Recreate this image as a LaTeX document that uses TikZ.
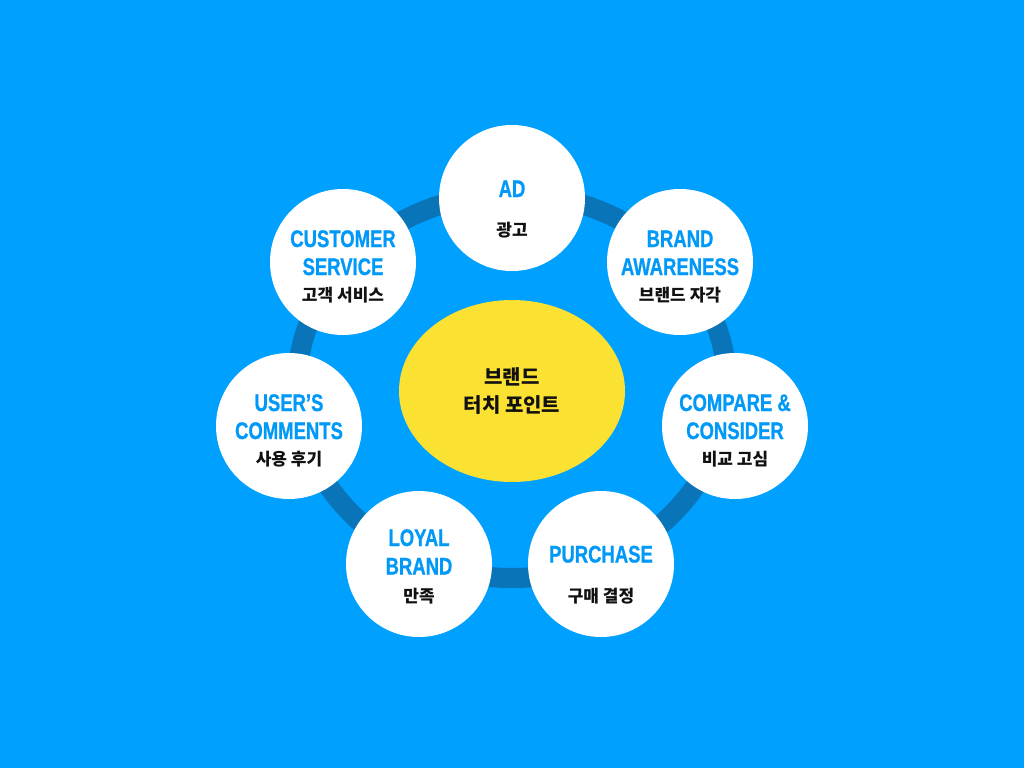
\documentclass[tikz,border=0pt]{standalone}
\usepackage{fontspec}
\usetikzlibrary{shapes.geometric}
\newfontfamily\enfont{Liberation Sans}[FakeStretch=0.77, FakeBold=0.8]
\newfontfamily\krfont{Noto Sans CJK KR}
\definecolor{bgblue}{HTML}{00A0FF}
\definecolor{ringblue}{HTML}{0A74B8}
\definecolor{txtblue}{HTML}{0099F8}
\definecolor{hubyellow}{HTML}{FAE132}
\definecolor{krtext}{HTML}{111111}
\begin{document}
\begin{tikzpicture}[x=1pt,y=1pt,
  bubble/.style={circle, fill=white, minimum size=146pt, inner sep=0pt},
  hub/.style={ellipse, fill=hubyellow, minimum width=226pt, minimum height=182pt, inner sep=0pt},
  entext/.style={font=\enfont\bfseries\fontsize{24}{24}\selectfont, text=txtblue, anchor=base, inner sep=0pt},
  krtxt/.style={font=\krfont\bfseries\fontsize{17}{17}\selectfont, text=krtext, anchor=base, inner sep=0pt},
  hubtxt/.style={font=\krfont\bfseries\fontsize{20}{20}\selectfont, text=krtext, anchor=base, inner sep=0pt},
  ringline/.style={draw=ringblue, line width=20pt}]
\fill[bgblue] (0,0) rectangle (1024,-768);
\useasboundingbox (0,0) rectangle (1024,-768);
\draw[ringline] (512,-386) ellipse [x radius=215, y radius=192];
\node[hub] (hub) at (512,-391) {};
\node[hubtxt] (hub1) at ([yshift=7pt]hub.center) {브랜드};
\node[hubtxt] (hub2) at ([yshift=-21pt]hub.center) {터치 포인트};
% AD
\node[bubble] (ad) at (512,-198) {};
\node[entext] (ad1) at ([yshift=1pt]ad.center) {AD};
\node[krtxt] (ad2) at ([yshift=-38pt]ad.center) {광고};
% Brand awareness
\node[bubble] (ba) at (680,-262) {};
\node[entext] (ba1) at ([yshift=15pt]ba.center) {BRAND};
\node[entext] (ba2) at ([yshift=-13pt]ba.center) {AWARENESS};
\node[krtxt] (ba3) at ([yshift=-39pt]ba.center) {브랜드 자각};
% Compare
\node[bubble] (cc) at (735,-426) {};
\node[entext] (cc1) at ([yshift=15pt]cc.center) {COMPARE \&};
\node[entext] (cc2) at ([yshift=-13pt]cc.center) {CONSIDER};
\node[krtxt] (cc3) at ([yshift=-39pt]cc.center) {비교 고심};
% Purchase
\node[bubble] (pu) at (601,-564) {};
\node[entext] (pu1) at ([yshift=1.5pt]pu.center) {PURCHASE};
\node[krtxt] (pu2) at ([yshift=-38.7pt]pu.center) {구매 결정};
% Loyal brand
\node[bubble] (lb) at (419,-564) {};
\node[entext] (lb1) at ([yshift=18pt]lb.center) {LOYAL};
\node[entext] (lb2) at ([yshift=-10.5pt]lb.center) {BRAND};
\node[krtxt] (lb3) at ([yshift=-38pt]lb.center) {만족};
% User's comments
\node[bubble] (uc) at (289,-426) {};
\node[entext] (uc1) at ([yshift=15pt]uc.center) {USER’S};
\node[entext] (uc2) at ([yshift=-13pt]uc.center) {COMMENTS};
\node[krtxt] (uc3) at ([yshift=-39pt]uc.center) {사용 후기};
% Customer service
\node[bubble] (cs) at (343,-262) {};
\node[entext] (cs1) at ([yshift=15pt]cs.center) {CUSTOMER};
\node[entext] (cs2) at ([yshift=-13pt]cs.center) {SERVICE};
\node[krtxt] (cs3) at ([yshift=-39pt]cs.center) {고객 서비스};
\end{tikzpicture}
\end{document}
